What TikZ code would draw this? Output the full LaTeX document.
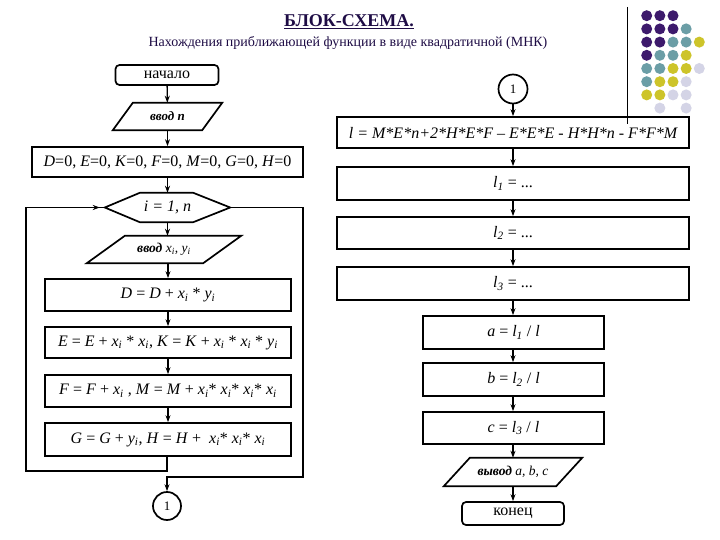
\documentclass[tikz,border=0pt]{standalone}
\usepackage{fontspec}
\setmainfont{Liberation Serif}
\usetikzlibrary{arrows.meta}
\definecolor{dP}{HTML}{3D1A6C}
\definecolor{dT}{HTML}{6B9EA6}
\definecolor{dY}{HTML}{CDC42A}
\definecolor{dL}{HTML}{D4D4E6}
\definecolor{ttl}{HTML}{1E0C45}
\newcommand\fs[1]{\fontsize{#1}{#1}\selectfont}
\newcommand\subi[1]{\textsubscript{\textit{#1}}}
\begin{document}
\begin{tikzpicture}[x=1pt,y=-1pt,
  lw/.style={line width=1.7pt},
  box/.style={draw,lw,inner sep=0pt,font=\fs{16}},
  bare/.style={inner sep=0pt},
  rbox/.style={draw,lw,rounded corners=4pt,inner sep=0pt,font=\fs{16}},
  conn/.style={draw,line width=1.3pt},
  arr/.style={conn,-{Stealth[length=7pt,width=5pt]}},
  dot/.style={circle,inner sep=0pt,minimum size=11pt}
]
\useasboundingbox (0,0) rectangle (720,540);
\fill[white] (0,0) rectangle (720,540);

% titles
\node[bare,text=ttl,font=\bfseries\fs{18}] (title) at (349,22) {\underline{БЛОК-СХЕМА.}};
\node[bare,text=ttl,font=\fs{14}] (subtitle) at (348,43) {Нахождения приближающей функции в виде квадратичной (МНК)};

% decoration
\draw[line width=0.8pt] (627,7) coordinate (vtop) -- (627,124) coordinate (vbot);
\foreach \r/\c/\col in {0/0/dP,0/1/dP,0/2/dP,
  1/0/dP,1/1/dP,1/2/dP,1/3/dT,
  2/0/dP,2/1/dP,2/2/dT,2/3/dT,2/4/dY,
  3/0/dP,3/1/dT,3/2/dT,3/3/dY,
  4/0/dT,4/1/dT,4/2/dY,4/3/dY,4/4/dL,
  5/0/dT,5/1/dY,5/2/dY,5/3/dL,
  6/0/dY,6/1/dY,6/2/dL,6/3/dL,
  7/1/dL,7/3/dL}
  \node[dot,fill=\col] (d\r\c) at ({646.7+13.15*\c},{15.7+13.2*\r}) {};

% left column
\node[rbox,minimum width=103pt,minimum height=20pt] (start) at (167,75) {начало};
\node[bare,minimum width=109pt,minimum height=27pt,font=\bfseries\itshape\fs{13}] (inn) at (167.5,116.5) {ввод n};
\draw[lw] ([xshift=20pt]inn.north west) -- (inn.north east) -- ([xshift=-20pt]inn.south east) -- (inn.south west) -- cycle;
\node[box,minimum width=271pt,minimum height=30pt] (init) at (167.5,162)
  {\textit{D}=0, \textit{E}=0, \textit{K}=0, \textit{F}=0, \textit{M}=0, \textit{G}=0, \textit{H}=0};
\node[bare,minimum width=125pt,minimum height=29pt,font=\itshape\fs{16}] (loop) at (167.5,207.5) {i = 1, n};
\draw[lw] (loop.west) -- ([xshift=35pt]loop.north west) -- ([xshift=-37pt]loop.north east) -- (loop.east)
  -- ([xshift=-37pt]loop.south east) -- ([xshift=35pt]loop.south west) -- cycle;
\node[bare,minimum width=154pt,minimum height=27pt,font=\itshape\fs{13.5}] (inxy) at (164,249.5) {\textbf{ввод} x\subi{i}, y\subi{i}};
\draw[lw] ([xshift=38pt]inxy.north west) -- (inxy.north east) -- ([xshift=-38pt]inxy.south east) -- (inxy.south west) -- cycle;
\node[box,minimum width=246pt,minimum height=32pt] (bD) at (168,295) {\textit{D} = \textit{D} + \textit{x}\subi{i} * \textit{y}\subi{i}};
\node[box,minimum width=246pt,minimum height=31pt] (bE) at (168,342.5)
  {\textit{E} = \textit{E} + \textit{x}\subi{i} * \textit{x}\subi{i}, \textit{K} = \textit{K} + \textit{x}\subi{i} * \textit{x}\subi{i} * \textit{y}\subi{i}};
\node[box,minimum width=246pt,minimum height=32pt] (bF) at (168,391)
  {\textit{F} = \textit{F} + \textit{x}\subi{i} , \textit{M} = \textit{M} + \textit{x}\subi{i}* \textit{x}\subi{i}* \textit{x}\subi{i}* \textit{x}\subi{i}};
\node[box,minimum width=246pt,minimum height=33pt] (bG) at (168,439.5)
  {\textit{G} = \textit{G} + \textit{y}\subi{i}, \textit{H} = \textit{H} +\ \ \textit{x}\subi{i}* \textit{x}\subi{i}* \textit{x}\subi{i}};
\node[draw,lw,circle,minimum size=28pt,inner sep=0pt,font=\fs{13}] (c1a) at (167,506) {1};

\draw[arr] (start) -- (inn);
\draw[arr] (inn.south) -- (init);
\draw[arr] (init) -- (loop.north);
\draw[arr] (loop.south) -- (inxy.north -| loop.south);
\draw[arr] (inxy.south -| bD.north) -- (bD);
\draw[arr] (bD) -- (bE);
\draw[arr] (bE) -- (bF);
\draw[arr] (bF) -- (bG);
\coordinate (lp1) at (167,471);
\coordinate (lp2) at (26,471);
\coordinate (lp3) at (26,207.5);
\draw[conn] (bG.south -| lp1) -- (lp1) -- (lp2) -- (lp3) -- (loop.west);
\draw[arr,shorten >=5pt] (lp3) -- (loop.west);
\coordinate (ex1) at (303,207.5);
\coordinate (ex2) at (303,477);
\coordinate (ex3) at (167,477);
\draw[arr] (loop.east) -- (ex1) -- (ex2) -- (ex3) -- (c1a);

% right column
\node[draw,lw,circle,minimum size=29pt,inner sep=0pt,font=\fs{13}] (c1b) at (513,89) {1};
\node[box,minimum width=352pt,minimum height=31pt,font=\itshape\fs{16}] (bl) at (513,132.5)
  {l = M*E*n+2*H*E*F – E*E*E - H*H*n - F*F*M};
\node[box,minimum width=352pt,minimum height=33pt] (bl1) at (513,183.5) {\textit{l}\subi{1} = ...};
\node[box,minimum width=352pt,minimum height=32pt] (bl2) at (513,233) {\textit{l}\subi{2} = ...};
\node[box,minimum width=352pt,minimum height=33pt] (bl3) at (513,283.5) {\textit{l}\subi{3} = ...};
\node[box,minimum width=181pt,minimum height=33pt] (ba) at (513.5,332.5) {\textit{a} = \textit{l}\subi{1} / \textit{l}};
\node[box,minimum width=181pt,minimum height=33pt] (bb) at (513.5,379.5) {\textit{b} = \textit{l}\subi{2} / \textit{l}};
\node[box,minimum width=181pt,minimum height=32pt] (bc) at (513.5,428) {\textit{c} = \textit{l}\subi{3} / \textit{l}};
\node[bare,minimum width=138pt,minimum height=28pt,font=\itshape\fs{13.5}] (out) at (513,472) {\textbf{вывод} a, b, c};
\draw[lw] ([xshift=26pt]out.north west) -- (out.north east) -- ([xshift=-26pt]out.south east) -- (out.south west) -- cycle;
\node[rbox,minimum width=102pt,minimum height=23pt] (stop) at (513,513.5) {конец};

\draw[arr] (c1b) -- (bl);
\draw[arr] (bl) -- (bl1);
\draw[arr] (bl1) -- (bl2);
\draw[arr] (bl2) -- (bl3);
\draw[arr] (bl3.south) -- (ba.north -| bl3.south);
\draw[arr] (ba.south -| bl3.south) -- (bb.north -| bl3.south);
\draw[arr] (bb.south -| bl3.south) -- (bc.north -| bl3.south);
\draw[arr] (bc.south -| out.north) -- (out.north);
\draw[arr] (out.south) -- (stop);
\end{tikzpicture}
\end{document}
